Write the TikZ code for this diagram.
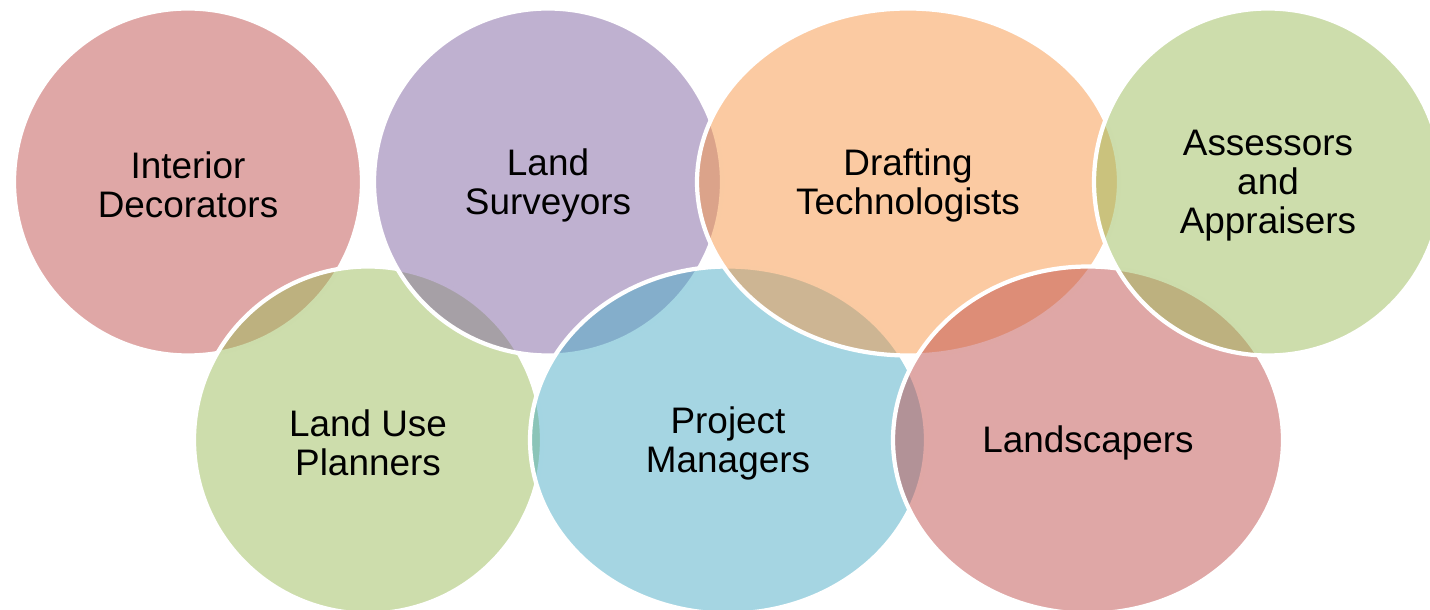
\documentclass[tikz,border=0pt]{standalone}
\usepackage{fontspec}
\setmainfont{Liberation Sans}
\usepackage{tikz}
\usepackage{xcolor}
\usetikzlibrary{shapes.geometric, positioning}

\definecolor{vred}{HTML}{C0504D}
\definecolor{vpurple}{HTML}{8064A2}
\definecolor{vorange}{HTML}{F79646}
\definecolor{vgreen}{HTML}{9BBB59}
\definecolor{vblue}{HTML}{4BACC6}

% taller first line, pushes the label a little lower
\newcommand{\vennstrut}{\rule{0pt}{9.4pt}}

\tikzset{
  venn/.style={ellipse, draw=white, line width=1.2pt, fill opacity=0.5, text opacity=1,
    minimum width=3.48cm, minimum height=3.47cm, inner sep=0pt, align=center,
    font=\fontsize{10.5}{11.1}\selectfont},
}

\begin{document}
\begin{tikzpicture}[on grid]
\clip (0,0) rectangle (14.3,-6.1);
\node[venn, fill=vred] (decor) at (1.88,-1.82) {\vennstrut Interior\\Decorators};
\node[venn, fill=vgreen, below right=2.58cm and 1.8cm of decor] (planners) {\vennstrut Land Use\\Planners};
\node[venn, fill=vpurple, right=3.6cm of decor] (surveyors) {\vennstrut Land\\Surveyors};
\node[venn, fill=vblue, minimum width=3.96cm, right=3.6cm of planners] (managers) {\vennstrut Project\\Managers};
\node[venn, fill=vorange, minimum width=4.22cm, right=3.6cm of surveyors] (drafting) {\vennstrut Drafting\\Technologists};
\node[venn, fill=vred, minimum width=3.9cm, right=3.6cm of managers] (landscape) {\vennstrut Landscapers};
\node[venn, fill=vgreen, right=3.6cm of drafting] (assessors) {\vennstrut Assessors\\and\\Appraisers};
\end{tikzpicture}
\end{document}
